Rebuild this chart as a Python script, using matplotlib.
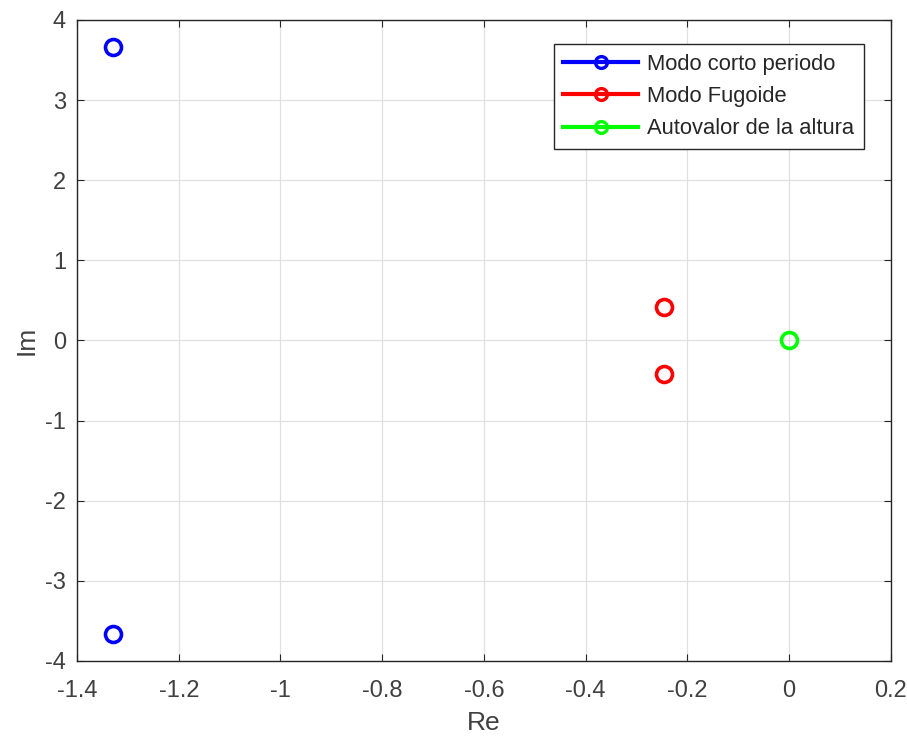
import matplotlib
matplotlib.use("Agg")
import matplotlib.pyplot as plt

plt.rcParams['font.family'] = ['Liberation Sans', 'DejaVu Sans']
plt.rcParams['axes.unicode_minus'] = False

# autovalores
corto_re = [-1.329, -1.329]
corto_im = [3.66, -3.66]
fugoide_re = [-0.246, -0.246]
fugoide_im = [0.415, -0.415]
altura_re = [0.0]
altura_im = [0.0]

labels = ['Modo corto periodo', 'Modo Fugoide', 'Autovalor de la altura']
colors = ['#0000ff', '#ff0000', '#00ff00']
xticks = [-1.4, -1.2, -1, -0.8, -0.6, -0.4, -0.2, 0, 0.2]
xticklabels = ['-1.4', '-1.2', '-1', '-0.8', '-0.6', '-0.4', '-0.2', '0', '0.2']

fig = plt.figure(figsize=(9.07, 7.4), dpi=100)
ax = fig.add_axes([0.085, 0.107, 0.897, 0.866])

series = [(corto_re, corto_im), (fugoide_re, fugoide_im), (altura_re, altura_im)]
for (re, im), lab, col in zip(series, labels, colors):
    ax.plot(re, im, linestyle='none', marker='o', markersize=11.5,
            markerfacecolor='none', markeredgecolor=col, markeredgewidth=2.6,
            color=col, label=lab)

ax.set_xlim(-1.4, 0.2)
ax.set_ylim(-4, 4)
ax.set_xticks(xticks)
ax.set_xticklabels(xticklabels)
ax.set_yticks(range(-4, 5))
ax.grid(True, color='#e0e0e0', linewidth=0.9)
ax.set_axisbelow(True)
ax.tick_params(direction='in', length=5, labelsize=17, colors='#262626',
               labelcolor='#404040', top=True, right=True)
ax.tick_params(axis='x', pad=14)
ax.tick_params(axis='y', pad=8)
for s in ax.spines.values():
    s.set_color('#262626')
    s.set_linewidth(1.0)
ax.set_xlabel('Re', fontsize=19, color='#404040', labelpad=6)
ax.set_ylabel('Im', fontsize=19, color='#404040', labelpad=5)

# lineas gruesas en la leyenda
handles = [plt.Line2D([0], [0], color=c, linewidth=3, marker='o', markersize=8.5,
                      markerfacecolor='none', markeredgecolor=c, markeredgewidth=2.4)
           for c in colors]
leg = ax.legend(handles, labels, loc='upper right', bbox_to_anchor=(0.967, 0.963),
                borderaxespad=0, fontsize=15.8, frameon=True, fancybox=False,
                handlelength=3.4, borderpad=0.45, labelspacing=0.52,
                handletextpad=0.4, framealpha=1)
leg.get_frame().set_edgecolor('#262626')
leg.get_frame().set_linewidth(1.0)
for t in leg.get_texts():
    t.set_color('#262626')

fig.savefig('out.png', dpi=100)
